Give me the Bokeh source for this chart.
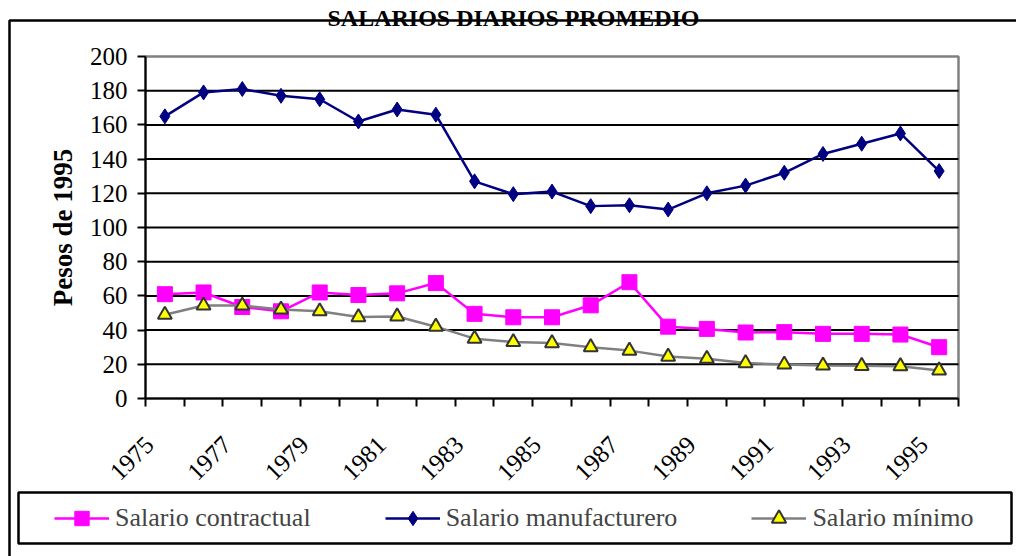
import math
from bokeh.plotting import figure
from bokeh.models import FixedTicker, Legend, LegendItem, Label
from bokeh.embed import file_html
from bokeh.resources import INLINE

# ---------------- data ----------------
years = list(range(1975, 1996))
salario_contractual = [61, 62, 53.5, 51, 62, 60.5, 61.5, 67.5, 49.5, 47.5, 47.5,
                       54.5, 68, 42, 40.7, 38.6, 38.8, 37.8, 37.8, 37.4, 30]
salario_manufacturero = [165, 179, 181, 177, 175, 162, 169, 166, 127, 119.5, 121,
                         112.5, 113, 110.5, 120, 124.5, 132, 143, 149, 155, 133]
salario_minimo = [49, 54.4, 54.4, 52, 51, 47.6, 48, 42, 35, 33, 32.4,
                  30, 28, 24.5, 23.2, 20.7, 19.9, 19.3, 19.1, 18.9, 16.4]
y_ticks = list(range(0, 201, 20))
x_label_years = years[::2]
title_text = "SALARIOS DIARIOS PROMEDIO"
y_title = "Pesos de 1995"
series_names = ["Salario contractual", "Salario manufacturero", "Salario mínimo"]

FONT = "Liberation Serif"
W, H = 1016, 556

# plot-area placement on the canvas (pixels)
PA_L, PA_R, PA_T, PA_B = 145, 958, 56, 398
x0, x1 = years[0] - 0.5, years[-1] + 0.5
y0, y1 = y_ticks[0], y_ticks[-1]
sx = (PA_R - PA_L) / (x1 - x0)
sy = (PA_B - PA_T) / (y1 - y0)
def px(xp):
    return x0 + (xp - PA_L) / sx
def py(yp):
    return y0 + (PA_B - yp) / sy

p = figure(width=W, height=H,
           x_range=(px(0), px(W)), y_range=(py(H), py(0)),
           output_backend="svg", toolbar_location=None,
           min_border_left=0, min_border_right=0, min_border_top=0, min_border_bottom=0)
p.title.visible = False
p.background_fill_color = "white"
p.border_fill_color = "white"
p.outline_line_color = None
p.xgrid.visible = False
p.ygrid.visible = False

# chart border (left/top visible) and legend box
p.quad(left=px(9), right=px(W + 40), top=py(20), bottom=py(H + 40),
       fill_color=None, line_color="black", line_width=2.5)
p.quad(left=px(18), right=px(1011), top=py(492), bottom=py(543),
       fill_color="white", line_color="black", line_width=2.5)

# plot area frame + gridlines
p.quad(left=x0, right=x1, top=y1, bottom=y0, fill_color="white",
       line_color="#808080", line_width=2.5)
grid_y = y_ticks[1:-1]
p.segment(x0=[x0] * len(grid_y), x1=[x1] * len(grid_y), y0=grid_y, y1=grid_y,
          line_color="black", line_width=2)

# axes placed at the plot-area edges
shift = 0.4
p.xaxis.fixed_location = y0
p.xaxis.bounds = (x0, x1)
p.xaxis.ticker = FixedTicker(ticks=[y - shift for y in x_label_years],
                             minor_ticks=[y - 0.5 for y in years] + [x1])
p.xaxis.major_label_overrides = {y - shift: str(y) for y in x_label_years}
p.xaxis.major_tick_out = 0
p.xaxis.major_tick_in = 0
p.xaxis.minor_tick_out = 8
p.xaxis.minor_tick_in = 0
p.xaxis.minor_tick_line_color = "black"
p.xaxis.minor_tick_line_width = 2
p.xaxis.major_label_orientation = math.pi / 4
p.xaxis.major_label_standoff = 34
p.xaxis.major_label_text_font = FONT
p.xaxis.major_label_text_font_size = "25px"
p.xaxis.major_label_text_color = "black"
p.xaxis.axis_line_color = "black"
p.xaxis.axis_line_width = 2

p.yaxis.fixed_location = x0
p.yaxis.bounds = (y0, y1)
p.yaxis.ticker = FixedTicker(ticks=y_ticks, minor_ticks=[])
p.yaxis.major_tick_out = 8
p.yaxis.major_tick_in = 0
p.yaxis.major_tick_line_width = 2
p.yaxis.major_tick_line_color = "black"
p.yaxis.major_label_standoff = 10
p.yaxis.major_label_text_font = FONT
p.yaxis.major_label_text_font_size = "25px"
p.yaxis.major_label_text_color = "black"
p.yaxis.axis_line_color = "black"
p.yaxis.axis_line_width = 2
p.yaxis.axis_label = y_title
p.yaxis.axis_label_text_font = FONT
p.yaxis.axis_label_text_font_style = "bold"
p.yaxis.axis_label_text_font_size = "27px"
p.yaxis.axis_label_text_color = "black"
p.yaxis.axis_label_standoff = 9

# series
l1 = p.line(years, salario_contractual, line_color="#FF00FF", line_width=2.5)
s1 = p.scatter(years, salario_contractual, marker="square", size=15,
               fill_color="#FF00FF", line_color="#FF00FF")
l2 = p.line(years, salario_manufacturero, line_color="#000080", line_width=2.5)
s2 = p.scatter(years, salario_manufacturero, marker="diamond", size=15,
               fill_color="#000080", line_color="#000080")
l3 = p.line(years, salario_minimo, line_color="#808080", line_width=2.5)
s3 = p.scatter(years, salario_minimo, marker="triangle", size=14,
               fill_color="#FFFF00", line_color="#333333", line_width=2)

legend = Legend(items=[LegendItem(label=series_names[0], renderers=[l1, s1]),
                       LegendItem(label=series_names[1], renderers=[l2, s2]),
                       LegendItem(label=series_names[2], renderers=[l3, s3])],
                location=(54, 20), orientation="horizontal",
                label_text_font=FONT, label_text_font_size="26px",
                glyph_width=55, glyph_height=36, label_standoff=6, spacing=74, padding=5,
                border_line_color=None, background_fill_alpha=0)
p.add_layout(legend)

p.add_layout(Label(x=px(513), y=py(17), text=title_text, text_align="center",
                   text_baseline="alphabetic", text_font=FONT, text_font_style="bold",
                   text_font_size="24px", text_color="black"))

open("out.html", "w").write(file_html(p, INLINE))
